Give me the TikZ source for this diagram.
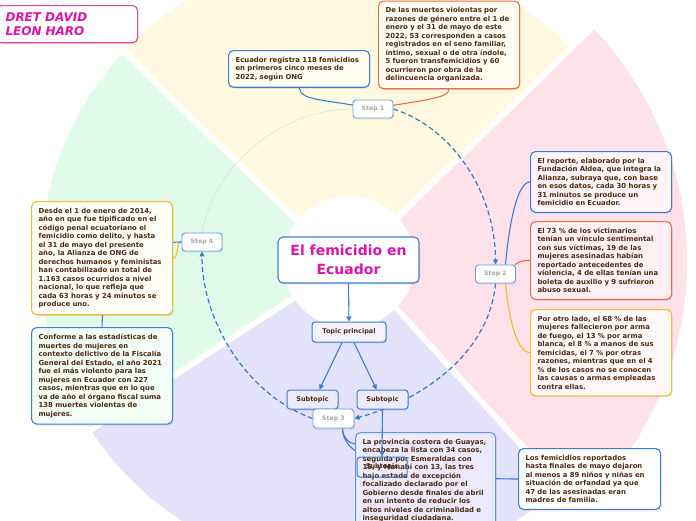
\documentclass[tikz,border=0pt]{standalone}
\usepackage{fontspec}
\setmainfont{DejaVu Sans}
\usetikzlibrary{shadows,arrows.meta,calc}
\pgfdeclarelayer{back}
\pgfdeclarelayer{lines}
\pgfsetlayers{back,lines,main}
\definecolor{bgY}{HTML}{FFFADF}
\definecolor{bgP}{HTML}{FFE1E9}
\definecolor{bgL}{HTML}{E4E1FB}
\definecolor{bgG}{HTML}{E1FBEA}
\definecolor{cBlue}{HTML}{3A7DD8}
\definecolor{cOrange}{HTML}{EE6A4C}
\definecolor{cGold}{HTML}{F0BD2A}
\definecolor{cText}{HTML}{4F2A10}
\definecolor{cMag}{HTML}{DD14A8}
\definecolor{cTitleBorder}{HTML}{E6498F}
\definecolor{cStep}{HTML}{A8A8A8}
\definecolor{cDash}{HTML}{2F7FC8}
\definecolor{fY}{HTML}{FFFDF2}
\definecolor{fP}{HTML}{FFF0F4}
\definecolor{fG}{HTML}{F1FDF5}
\definecolor{fL}{HTML}{ECEAFC}
\definecolor{fW}{HTML}{FFFEF8}
\definecolor{fSub}{HTML}{ECEAFD}
\begin{document}
\begin{tikzpicture}[x=1pt,y=1pt,
  shad/.style={drop shadow={shadow xshift=1pt,shadow yshift=-1.5pt,opacity=0.18}},
  txtbox/.style={draw, line width=1.1pt, rounded corners=5pt, text=cText,
    font=\fontsize{6.9}{8.5}\selectfont\bfseries, align=left, text width=127pt,
    inner xsep=7pt, inner ysep=6.5pt, anchor=north west, shad},
  stepbox/.style={draw=cBlue!75, line width=0.9pt, fill=white, rounded corners=3pt,
    text=cStep, font=\fontsize{6.2}{7}\selectfont\bfseries, minimum width=40pt,
    minimum height=18pt, inner sep=0pt, shad},
  subbox/.style={draw=cBlue, line width=1pt, fill=fSub, rounded corners=3pt,
    text=cText, font=\fontsize{6.5}{7}\selectfont\bfseries, minimum width=51pt,
    minimum height=19pt, inner sep=0pt, shad},
  conn/.style={line width=1.1pt},
  arr/.style={cBlue, line width=1.1pt, -{Triangle[length=5pt,width=5pt]}},
  dasharc/.style={cDash, line width=1.2pt, dash pattern=on 5pt off 3pt},
]
\useasboundingbox (0,0) rectangle (696,-520);
\coordinate (O) at (349,-262);

% ---------- nodes ----------
\node[draw=cTitleBorder, line width=1.1pt, fill=white, rounded corners=5pt, anchor=north west,
  text width=123pt, inner xsep=9pt, inner ysep=7pt, align=left, text=cMag,
  font=\fontsize{12}{14.3}\selectfont\bfseries\itshape, shad] (title) at (-4,-5)
  {DRET DAVID\\LEON HARO};

\node[draw=cBlue, fill=white, rounded corners=5pt, line width=1.1pt, minimum width=141pt,
  minimum height=46pt, align=center, font=\fontsize{14}{19}\selectfont\bfseries,
  text=cMag, inner sep=0pt, shad] (c) at (348.5,-260) {El femicidio en\\Ecuador};

\node[subbox, minimum width=74pt, minimum height=20pt, fill=fSub!60!white] (tp) at (349,-332) {Topic principal};
\node[subbox] (sub1) at (312.5,-399.5) {Subtopic};
\node[subbox] (sub2) at (382.5,-399.5) {Subtopic};

\node[stepbox] (s1) at (373,-109) {Step 1};
\node[stepbox] (s2) at (495.5,-274) {Step 2};
\node[stepbox, minimum width=41pt, minimum height=19pt] (s3) at (333.5,-418.5) {Step 3};
\node[stepbox] (s4) at (202,-242) {Step 4};

\node[txtbox, draw=cBlue, fill=fY] (e1) at (228,-50)
  {Ecuador registra 118 femicidios\\en primeros cinco meses de\\2022, según ONG};
\node[txtbox, draw=cOrange, fill=fY] (e2) at (378,-0.5)
  {De las muertes violentas por\\razones de género entre el 1 de\\enero y el 31 de mayo de este\\2022, 53 corresponden a casos\\registrados en el seno familiar,\\íntimo, sexual o de otra índole,\\5 fueron transfemicidios y 60\\ocurrieron por obra de la\\delincuencia organizada.};
\node[txtbox, draw=cBlue, fill=fP!70!white] (r1) at (530,-151)
  {El reporte, elaborado por la\\Fundación Aldea, que integra la\\Alianza, subraya que, con base\\en esos datos, cada 30 horas y\\31 minutos se produce un\\femicidio en Ecuador.};
\node[txtbox, draw=cOrange, fill=fP] (r2) at (530,-221)
  {El 73 \% de los victimarios\\tenían un vínculo sentimental\\con sus víctimas, 19 de las\\mujeres asesinadas habían\\reportado antecedentes de\\violencia, 4 de ellas tenían una\\boleta de auxilio y 9 sufrieron\\abuso sexual.};
\node[txtbox, draw=cGold, fill=fP!50!white] (r3) at (530,-309)
  {Por otro lado, el 68 \% de las\\mujeres fallecieron por arma\\de fuego, el 13 \% por arma\\blanca, el 8 \% a manos de sus\\femicidas, el 7 \% por otras\\razones, mientras que en el 4\\\% de los casos no se conocen\\las causas o armas empleadas\\contra ellas.};
\node[txtbox, draw=cGold, fill=fW] (l1) at (31,-201)
  {Desde el 1 de enero de 2014,\\año en que fue tipificado en el\\código penal ecuatoriano el\\femicidio como delito, y hasta\\el 31 de mayo del presente\\año, la Alianza de ONG de\\derechos humanos y feministas\\han contabilizado un total de\\1.163 casos ocurridos a nivel\\nacional, lo que refleja que\\cada 63 horas y 24 minutos se\\produce uno.};
\node[txtbox, draw=cBlue, fill=fG] (l2) at (31,-327)
  {Conforme a las estadísticas de\\muertes de mujeres en\\contexto delictivo de la Fiscalía\\General del Estado, el año 2021\\fue el más violento para las\\mujeres en Ecuador con 227\\casos, mientras que en lo que\\va de año el órgano fiscal suma\\138 muertes violentas de\\mujeres.};
\node[txtbox, draw=cBlue!80, fill=fL, text width=126pt] (lp) at (355,-432)
  {La provincia costera de Guayas,\\encabeza la lista con 34 casos,\\seguida por Esmeraldas con\\15, y Manabí con 13, las tres\\bajo estado de excepción\\focalizado declarado por el\\Gobierno desde finales de abril\\en un intento de reducir los\\altos niveles de criminalidad e\\inseguridad ciudadana.};
\node[txtbox, draw=cBlue, fill=white, text width=128pt] (lf) at (518,-448)
  {Los femicidios reportados\\hasta finales de mayo dejaron\\al menos a 89 niños y niñas en\\situación de orfandad ya que\\47 de las asesinadas eran\\madres de familia.};

\node[draw=cBlue, line width=1pt, rounded corners=3pt, text=cText,
  font=\fontsize{6.5}{7}\selectfont\bfseries, minimum width=50pt, minimum height=20pt,
  inner sep=0pt] (sub3) at (382,-467) {Subtopic};
\draw[arr] (sub2.south) -- (sub3.north);

% ---------- solid arrows ----------
\draw[arr] (c.south) -- (tp.north);
\draw[arr] ([xshift=-7pt]tp.south) -- ([xshift=7pt]sub1.north);
\draw[arr] ([xshift=5pt]tp.south) -- ([xshift=-6pt]sub2.north);

% ---------- connectors ----------
\begin{pgfonlayer}{lines}
  \draw[conn, cBlue] (e1.south) .. controls +(2,-14) and +(-45,10) .. (s1.center);
  \draw[conn, cOrange] (e2.south) .. controls +(0,-10) and +(40,8) .. (s1.center);
  \draw[conn, cBlue] ([xshift=10pt]s2.north) .. controls +(4,45) and +(-12,0) .. (r1.west);
  \draw[conn, cOrange] ([xshift=-1pt]s2.north east) .. controls +(6,4) and +(-6,0) .. (r2.west);
  \draw[conn, cGold] ([xshift=10pt]s2.south) .. controls +(4,-40) and +(-12,0) .. (r3.west);
  \draw[conn, cGold] (s4.west) .. controls +(-6,0) and +(6,0) .. (l1.east);
  \draw[conn, cBlue] (s4.west) .. controls +(-60,0) and +(0,40) .. (l2.north);
  \draw[conn, cBlue] ([xshift=9pt]s3.south) .. controls +(0,-8) and +(-6,0) .. ([yshift=-12pt]lp.north west);
  \draw[conn, cBlue] ([xshift=9pt]s3.south) .. controls +(0,-40) and +(-80,0) .. (lf.west);
  \draw[dasharc,-{Triangle[length=5pt,width=5pt]}] (s1.east) .. controls +(-18:66) and +(90:68) .. (s2.north);
  \draw[dasharc,-{Triangle[length=5pt,width=5pt]}] (s2.south) .. controls +(-95:70) and +(15:70) .. (s3.east);
  \draw[dasharc,-{Triangle[length=5pt,width=5pt]}] (s3.west) .. controls +(160:70) and +(-90:70) .. (s4.south);
  \draw[gray!30, line width=1pt, dash pattern=on 1.5pt off 1.5pt] (s4.north) .. controls +(80:70) and +(180:70) .. (s1.west);
\end{pgfonlayer}

% ---------- background ----------
\begin{pgfonlayer}{back}
  \begin{scope}
    \clip (0,0) rectangle (696,-520);
    \begin{scope}
      \clip (O) circle (308);
      \fill[bgY] (O) -- ($(O)+(42:66)$) -- ($(O)+(44:308)$) -- ($(O)+(44:450)$) -- ($(O)+(90:450)$)
        -- ($(O)+(137:450)$) -- ($(O)+(137:308)$) -- ($(O)+(142:66)$) -- cycle;
      \fill[bgL] (O) -- ($(O)+(213:66)$) -- ($(O)+(213:308)$) -- ($(O)+(213:450)$) -- ($(O)+(270:450)$)
        -- ($(O)+(313:450)$) -- ($(O)+(313:308)$) -- ($(O)+(316:66)$) -- cycle;
      \fill[bgG] (O) -- ($(O)+(142:66)$) -- ($(O)+(137:308)$) -- ($(O)+(137:450)$) -- ($(O)+(175:450)$)
        -- ($(O)+(213:450)$) -- ($(O)+(213:308)$) -- ($(O)+(213:66)$) -- cycle;
    \end{scope}
    \begin{scope}
      \clip (O) circle (338);
      \fill[bgP] (O) -- ($(O)+(-44:66)$) -- ($(O)+(-47:308)$) -- ($(O)+(-47:450)$) -- ($(O)+(0:450)$)
        -- ($(O)+(44:450)$) -- ($(O)+(44:308)$) -- ($(O)+(42:66)$) -- cycle;
    \end{scope}
    \draw[white, line width=6pt] ($(O)+(42:60)$) -- ($(O)+(44:360)$);
    \draw[white, line width=6pt] ($(O)+(142:60)$) -- ($(O)+(137:308)$) -- ($(O)+(136.8:330)$);
    \draw[white, line width=6pt] ($(O)+(213:60)$) -- ($(O)+(213:330)$);
    \draw[white, line width=6pt] ($(O)+(-44:60)$) -- ($(O)+(-47:360)$);
    \fill[white] (O) circle (66);
  \end{scope}
\end{pgfonlayer}
\end{tikzpicture}
\end{document}
